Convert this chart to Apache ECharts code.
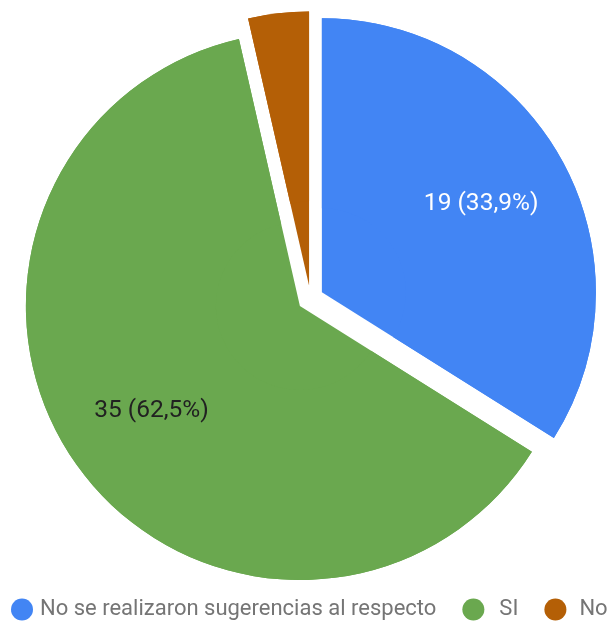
<!DOCTYPE html>
<html>
<head>
<meta charset="utf-8">
<script src="https://cdn.jsdelivr.net/npm/echarts@6/dist/echarts.min.js"></script>
<style>
  html, body { margin: 0; padding: 0; background: #ffffff; }
  #chart { width: 610px; height: 622px; }
</style>
</head>
<body>
<div id="chart"></div>
<script>
// Responses and counts
const categories = ['No se realizaron sugerencias al respecto', 'SI', 'No'];
const counts = [19, 35, 2];
const colors = ['#4285F4', '#6AA84F', '#B45F06'];
const labelColors = ['#ffffff', '#212121', '#ffffff'];
const showLabel = [true, true, false];
// spacing between each legend marker and its text
const legendTextPadding = [[0, 0, 0, 2], [0, 5, 0, 10], [0, 0, 0, 8]];

const center = [310.5, 298.5];
const radius = 274;
const offset = 13;

const chart = echarts.init(document.getElementById('chart'), null, { renderer: 'canvas' });

// Full slices (no labels)
const sliceData = categories.map((name, i) => ({
  name: name,
  value: counts[i],
  selected: true,
  itemStyle: { color: colors[i] }
}));

// Same slices as an outer ring drawn on top; its inside labels sit further out from the centre
const ringData = categories.map((name, i) => ({
  name: name,
  value: counts[i],
  selected: true,
  itemStyle: { color: colors[i] },
  label: { show: showLabel[i], color: labelColors[i] }
}));

function fmt(p) {
  const pct = (p.percent != null ? p.percent : 0).toFixed(1).replace('.', ',');
  return p.value + ' (' + pct + '%)';
}

chart.setOption({
  animation: false,
  color: colors,
  legend: {
    data: categories.map((name, i) => ({
      name: name,
      textStyle: { padding: legendTextPadding[i] }
    })),
    left: 11,
    top: 598.5,
    padding: 0,
    orient: 'horizontal',
    icon: 'circle',
    itemWidth: 22,
    itemHeight: 22,
    itemGap: 26,
    selectedMode: false,
    textStyle: {
      fontFamily: 'Roboto',
      fontSize: 22,
      color: '#757575'
    }
  },
  series: [
    {
      type: 'pie',
      center: center,
      radius: [0, radius],
      startAngle: 90,
      clockwise: true,
      selectedMode: 'multiple',
      selectedOffset: offset,
      avoidLabelOverlap: false,
      label: { show: false },
      labelLine: { show: false },
      emphasis: { scale: false },
      data: sliceData
    },
    {
      type: 'pie',
      center: center,
      radius: [84, radius],
      startAngle: 90,
      clockwise: true,
      selectedMode: 'multiple',
      selectedOffset: offset,
      avoidLabelOverlap: false,
      label: {
        show: true,
        position: 'inside',
        formatter: fmt,
        fontFamily: 'Roboto',
        fontSize: 24.5,
        fontWeight: 'normal'
      },
      labelLine: { show: false },
      emphasis: { scale: false },
      data: ringData
    }
  ]
});
</script>
</body>
</html>
